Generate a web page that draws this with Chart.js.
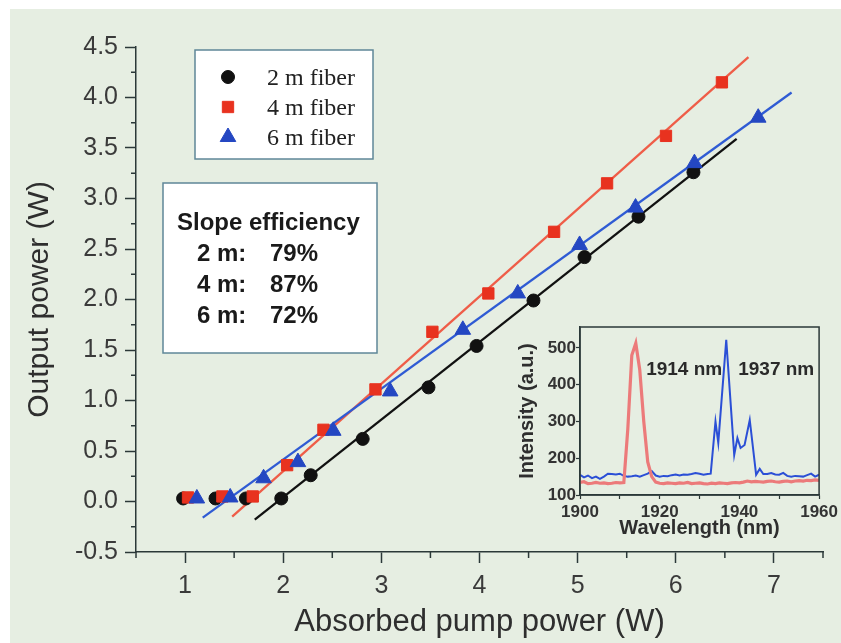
<!DOCTYPE html>
<html><head><meta charset="utf-8">
<script src="https://cdn.jsdelivr.net/npm/chart.js@4.4.0/dist/chart.umd.min.js"></script>
<style>
html,body{margin:0;padding:0;background:#fff;}
#wrap{position:relative;width:841px;height:643px;overflow:hidden;}
#main{position:absolute;left:0;top:0;}
#inset{position:absolute;left:500px;top:315px;}
</style></head><body>
<div id="wrap"><canvas id="main" width="841" height="643"></canvas><canvas id="inset" width="341" height="225"></canvas></div>
<script>
// ---------- data (main plot) ----------
const seriesNames = ['2 m fiber', '4 m fiber', '6 m fiber'];
const pump2m = [0.98, 1.31, 1.62, 1.98, 2.28, 2.81, 3.48, 3.97, 4.55, 5.07, 5.62, 6.18];
const out2m  = [0.03, 0.03, 0.03, 0.03, 0.26, 0.62, 1.13, 1.54, 1.99, 2.42, 2.82, 3.26];
const pump4m = [1.03, 1.38, 1.69, 2.04, 2.41, 2.94, 3.52, 4.09, 4.76, 5.30, 5.90, 6.47];
const out4m  = [0.04, 0.05, 0.05, 0.36, 0.71, 1.11, 1.68, 2.06, 2.67, 3.15, 3.62, 4.15];
const pump6m = [1.12, 1.46, 1.80, 2.15, 2.51, 3.09, 3.83, 4.39, 5.02, 5.59, 6.19, 6.84];
const out6m  = [0.03, 0.04, 0.23, 0.39, 0.70, 1.09, 1.70, 2.06, 2.54, 2.91, 3.35, 3.80];
// linear fits (end points)
const fit2mX = [1.71, 6.62]; const fit2mY = [-0.18, 3.59];
const fit4mX = [1.48, 6.74]; const fit4mY = [-0.15, 4.40];
const fit6mX = [1.18, 7.18]; const fit6mY = [-0.16, 4.05];
const slopeTitle = 'Slope efficiency';
const slopeLabels = ['2 m:', '4 m:', '6 m:'];
const slopeValues = ['79%', '87%', '72%'];
const xAxisTitle = 'Absorbed pump power (W)';
const yAxisTitle = 'Output power (W)';

// ---------- data (inset spectrum) ----------
const wl1914  = [1900,1901,1902,1903,1904,1905,1906,1907,1908,1909,1910,1911,1912,1913,1914,1915,1916,1917,1918,1919,1920,1921,1922,1923,1924,1925,1926,1927,1928,1929,1930,1931,1932,1933,1934,1935,1936,1937,1938,1939,1940,1941,1942,1943,1944,1945,1946,1947,1948,1949,1950,1951,1952,1953,1954,1955,1956,1957,1958,1959,1960];
const int1914 = [134,136,131,132,134,132,133,131,132,134,133,134,280,480,513,440,300,190,150,135,132,131,133,132,131,133,132,134,131,132,133,131,130,132,131,133,132,131,133,134,133,135,138,136,137,136,135,137,138,136,135,137,138,136,138,139,138,140,139,141,140];
const wl1937  = [1900,1901,1902,1903,1904,1905,1906,1907,1908,1909,1910,1911,1912,1913,1914,1915,1916,1917,1918,1919,1920,1921,1922,1923,1924,1925,1926,1927,1928,1929,1930,1931,1932,1932.8,1934.0,1934.7,1936.7,1938.7,1939.5,1940.3,1941.3,1942.6,1944.2,1945.1,1946,1947,1948,1949,1950,1951,1952,1953,1954,1955,1956,1957,1958,1959,1960];
const int1937 = [155,148,153,146,150,144,150,158,157,156,158,152,150,151,153,150,154,158,165,153,150,152,151,154,156,153,156,155,157,160,158,155,157,158,300,242,522,209,255,228,236,304,155,171,157,157,160,156,155,160,152,150,152,151,150,154,158,150,155];
const peakLabels = ['1914 nm', '1937 nm'];
const peakLabelX = [1916.6, 1939.7];
const peakLabelY = [440, 440];
const insetXTitle = 'Wavelength (nm)';
const insetYTitle = 'Intensity (a.u.)';
const insetYTicks = [100, 200, 300, 400, 500];

// ---------- styles ----------
const SANS = "'Liberation Sans', Arial, sans-serif";
const SERIF = "'Liberation Serif', 'Times New Roman', serif";
const BG = '#e6eee2';
const AXIS = '#2b3838';
const TXT = '#3a3a3a';
const BLACK = '#111111';
const RED = '#e8321f';
const RED_LINE = '#ef5d48';
const BLUE = '#2447c2';
const BLUE_LINE = '#2f5bd4';

const toXY = (xs, ys) => xs.map((x, i) => ({x: x, y: ys[i]}));
const near = (v, step) => Math.abs(v / step - Math.round(v / step)) < 1e-6;

const mainPlugin = {
  id: 'mainDeco',
  beforeDraw(chart) {
    const c = chart.ctx;
    c.save();
    c.fillStyle = '#ffffff';
    c.fillRect(0, 0, chart.width, chart.height);
    c.fillStyle = BG;
    c.fillRect(10, 9, chart.width - 10, chart.height - 9);
    c.restore();
  },
  afterDraw(chart) {
    const c = chart.ctx;
    const xs = chart.scales.x, ys = chart.scales.y;
    c.save();
    // minor ticks
    c.strokeStyle = AXIS; c.lineWidth = 1.5;
    xs.ticks.forEach(t => {
      if (!near(t.value, 1)) {
        const px = xs.getPixelForValue(t.value);
        c.beginPath(); c.moveTo(px, ys.bottom); c.lineTo(px, ys.bottom + 6); c.stroke();
      }
    });
    ys.ticks.forEach(t => {
      if (!near(t.value, 0.5)) {
        const py = ys.getPixelForValue(t.value);
        c.beginPath(); c.moveTo(xs.left, py); c.lineTo(xs.left - 5, py); c.stroke();
      }
    });
    // legend box
    c.fillStyle = '#ffffff';
    c.fillRect(195, 50, 178, 109);
    c.strokeStyle = '#5f8798'; c.lineWidth = 1.5;
    c.strokeRect(195, 50, 178, 109);
    const legendItems = [
      {ds: chart.data.datasets[2], y: 77},
      {ds: chart.data.datasets[1], y: 107},
      {ds: chart.data.datasets[0], y: 137}
    ];
    legendItems.forEach((it, i) => {
      c.fillStyle = it.ds.backgroundColor;
      c.strokeStyle = it.ds.borderColor;
      c.lineWidth = 1;
      Chart.helpers.drawPoint(c, {pointStyle: it.ds.pointStyle, radius: it.ds.pointRadius, rotation: 0, borderWidth: 1}, 228, it.y);
      c.fillStyle = '#222';
      c.font = '24px ' + SERIF;
      c.textAlign = 'left'; c.textBaseline = 'alphabetic';
      c.fillText(seriesNames[i], 267, [85, 115, 145][i]);
    });
    // slope box
    c.fillStyle = '#ffffff';
    c.fillRect(163, 183, 214, 170);
    c.strokeStyle = '#5f8798'; c.lineWidth = 1.5;
    c.strokeRect(163, 183, 214, 170);
    c.fillStyle = '#1a1a1a';
    c.font = 'bold 24px ' + SANS;
    c.textAlign = 'left'; c.textBaseline = 'alphabetic';
    c.fillText(slopeTitle, 177, 230);
    const rowsY = [261, 292, 323];
    slopeLabels.forEach((s, i) => {
      c.fillText(s, 197, rowsY[i]);
      c.fillText(slopeValues[i], 270, rowsY[i]);
    });
    c.restore();
  }
};

new Chart(document.getElementById('main'), {
  type: 'scatter',
  data: {
    datasets: [
      {label: seriesNames[2], data: toXY(pump6m, out6m), pointStyle: 'triangle', pointRadius: 9, backgroundColor: BLUE, borderColor: BLUE, borderWidth: 1, showLine: false},
      {label: seriesNames[1], data: toXY(pump4m, out4m), pointStyle: 'rect', pointRadius: 8, backgroundColor: RED, borderColor: RED, borderWidth: 1, showLine: false},
      {label: seriesNames[0], data: toXY(pump2m, out2m), pointStyle: 'circle', pointRadius: 6.5, backgroundColor: BLACK, borderColor: BLACK, borderWidth: 1, showLine: false},
      {type: 'line', label: 'fit 6 m', data: toXY(fit6mX, fit6mY), borderColor: BLUE_LINE, borderWidth: 2.3, pointRadius: 0, fill: false},
      {type: 'line', label: 'fit 4 m', data: toXY(fit4mX, fit4mY), borderColor: RED_LINE, borderWidth: 2.3, pointRadius: 0, fill: false},
      {type: 'line', label: 'fit 2 m', data: toXY(fit2mX, fit2mY), borderColor: BLACK, borderWidth: 2.3, pointRadius: 0, fill: false}
    ]
  },
  options: {
    responsive: false, animation: false, devicePixelRatio: 1,
    layout: {padding: {top: 47, right: 18, left: 0, bottom: 0}},
    plugins: {legend: {display: false}, tooltip: {enabled: false}},
    scales: {
      x: {
        type: 'linear', min: 0.5, max: 7.5,
        ticks: {stepSize: 0.5, autoSkip: false, maxRotation: 0, padding: 8, color: TXT,
          font: {family: SANS, size: 25},
          callback: v => near(v, 1) ? String(Math.round(v)) : ''},
        grid: {drawOnChartArea: false, tickLength: 11, tickWidth: 1.5,
          tickColor: ctx => (ctx.tick && near(ctx.tick.value, 1)) ? AXIS : 'rgba(0,0,0,0)'},
        border: {display: true, color: AXIS, width: 1.5},
        title: {display: true, text: xAxisTitle, color: '#2e2e2e', font: {family: SANS, size: 31}, padding: {top: 0, bottom: 2}},
        afterFit: s => { s.height = 91; }
      },
      y: {
        type: 'linear', min: -0.5, max: 4.5,
        ticks: {stepSize: 0.25, autoSkip: false, padding: 7, color: TXT,
          font: {family: SANS, size: 25},
          callback: v => near(v, 0.5) ? v.toFixed(1) : ''},
        grid: {drawOnChartArea: false, tickLength: 11, tickWidth: 1.5,
          tickColor: ctx => (ctx.tick && near(ctx.tick.value, 0.5)) ? AXIS : 'rgba(0,0,0,0)'},
        border: {display: true, color: AXIS, width: 1.5},
        title: {display: true, text: yAxisTitle, color: '#2e2e2e', font: {family: SANS, size: 30}, padding: {top: 22, bottom: 0}},
        afterFit: s => { s.width = 136; }
      }
    }
  },
  plugins: [mainPlugin]
});

// ---------- inset ----------
const insetPlugin = {
  id: 'insetDeco',
  afterDraw(chart) {
    const c = chart.ctx, a = chart.chartArea;
    const xs = chart.scales.x, ys = chart.scales.y;
    c.save();
    c.strokeStyle = AXIS; c.lineWidth = 1.5;
    c.strokeRect(a.left, a.top, a.right - a.left, a.bottom - a.top);
    c.fillStyle = '#2a2a2a';
    c.font = 'bold 19px ' + SANS;
    c.textAlign = 'left'; c.textBaseline = 'middle';
    peakLabels.forEach((t, i) => {
      c.fillText(t, xs.getPixelForValue(peakLabelX[i]), ys.getPixelForValue(peakLabelY[i]));
    });
    c.restore();
  }
};

new Chart(document.getElementById('inset'), {
  type: 'scatter',
  data: {
    datasets: [
      {label: peakLabels[0], data: toXY(wl1914, int1914), showLine: true, borderColor: '#ec7a7a', borderWidth: 3.2, pointRadius: 0, fill: false},
      {label: peakLabels[1], data: toXY(wl1937, int1937), showLine: true, borderColor: '#2b4fd6', borderWidth: 2, pointRadius: 0, fill: false}
    ]
  },
  options: {
    responsive: false, animation: false, devicePixelRatio: 1,
    layout: {padding: {top: 12, right: 19, left: 0, bottom: 0}},
    plugins: {legend: {display: false}, tooltip: {enabled: false}},
    scales: {
      x: {
        type: 'linear', min: 1900, max: 1960,
        ticks: {stepSize: 10, autoSkip: false, maxRotation: 0, padding: 3, color: '#333',
          font: {family: SANS, size: 17, weight: 'bold'},
          callback: v => near(v, 20) ? String(v) : ''},
        grid: {drawOnChartArea: false, tickLength: 4, tickWidth: 1.2, tickColor: AXIS},
        border: {display: true, color: AXIS, width: 1.5},
        title: {display: true, text: insetXTitle, color: '#2e2e2e', font: {family: SANS, size: 20, weight: 'bold'}, padding: {top: 0, bottom: 0}},
        afterFit: s => { s.height = 45; }
      },
      y: {
        type: 'linear', min: 100, max: 557,
        afterBuildTicks: s => { s.ticks = insetYTicks.map(v => ({value: v})); },
        ticks: {autoSkip: false, padding: 0, color: '#333',
          font: {family: SANS, size: 17, weight: 'bold'},
          callback: v => String(v)},
        grid: {drawOnChartArea: false, tickLength: 4, tickWidth: 1.2, tickColor: AXIS},
        border: {display: true, color: AXIS, width: 1.5},
        title: {display: true, text: insetYTitle, color: '#2e2e2e', font: {family: SANS, size: 20, weight: 'bold'}, padding: {top: 15, bottom: 0}},
        afterFit: s => { s.width = 80; }
      }
    }
  },
  plugins: [insetPlugin]
});
</script>
</body></html>
